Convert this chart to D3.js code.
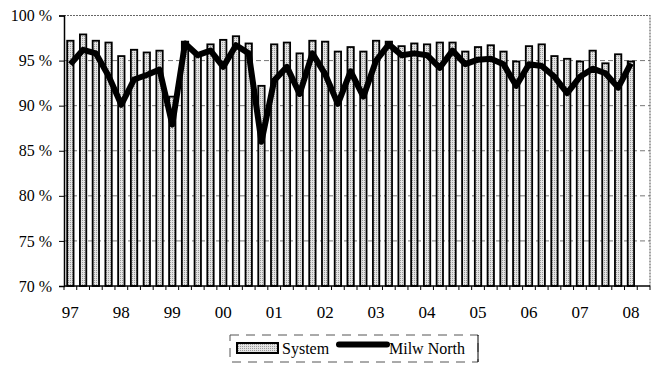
<!DOCTYPE html>
<html>
<head>
<meta charset="UTF-8">
<script src="https://cdn.jsdelivr.net/npm/d3@7"></script>
</head>
<body style="margin:0">
<script>
let width = 659;
let height = 367;
let margin = {top: 15.5, right: 9, bottom: 81, left: 64};
let serifFont = "'Liberation Serif'";

// year labels on the category axis, one per first quarter
let years = ['97', '98', '99', '00', '01', '02', '03', '04', '05', '06', '07', '08'];
let quarters = years.flatMap(y => ['Q1', 'Q2', 'Q3', 'Q4'].map(q => y + q)).slice(0, 46);

let systemValues = [
  97.2, 97.9, 97.2, 97.0, 95.5, 96.2, 95.9, 96.1, 91.0, 97.1, 95.8, 96.8,
  97.3, 97.7, 96.9, 92.2, 96.8, 97.0, 95.8, 97.2, 97.1, 96.0, 96.5, 96.0,
  97.2, 97.1, 96.6, 96.9, 96.8, 97.0, 97.0, 96.0, 96.5, 96.7, 96.0, 94.9,
  96.6, 96.8, 95.5, 95.2, 94.9, 96.1, 94.7, 95.7, 94.9
];
let milwNorthValues = [
  94.6, 96.2, 95.8, 93.3, 90.1, 92.9, 93.4, 94.0, 87.9, 96.9, 95.6, 96.1,
  94.3, 96.7, 95.8, 86.0, 92.8, 94.3, 91.3, 95.8, 93.5, 90.2, 93.8, 91.0,
  95.0, 96.8, 95.6, 95.8, 95.6, 94.2, 96.1, 94.6, 95.1, 95.2, 94.6, 92.2,
  94.6, 94.4, 93.2, 91.4, 93.2, 94.1, 93.6, 92.0, 94.7
];
let yTicks = [70, 75, 80, 85, 90, 95, 100];

let svg = d3.select('body')
  .append('svg')
  .attr('width', width)
  .attr('height', height);

svg.append('rect')
  .attr('width', width)
  .attr('height', height)
  .attr('fill', '#fff');

let x = d3.scaleBand()
  .domain(quarters)
  .range([margin.left, width - margin.right])
  .paddingInner(0.5)
  .paddingOuter(0.25);

let y = d3.scaleLinear()
  .domain([70, 100])
  .range([height - margin.bottom, margin.top]);

let x0 = margin.left;
let x1 = width - margin.right;
let yBottom = y(70);

// dotted fill for the bars
let defs = svg.append('defs');
let pat = defs.append('pattern')
  .attr('id', 'dots')
  .attr('width', 2)
  .attr('height', 2)
  .attr('patternUnits', 'userSpaceOnUse');
pat.append('rect').attr('width', 2).attr('height', 2).attr('fill', '#e4e4e4');
pat.append('rect').attr('width', 1).attr('height', 1).attr('fill', '#9a9a9a');

// gridlines
svg.append('g')
  .selectAll('line')
  .data(yTicks.filter(d => d > 70 && d < 100))
  .join('line')
  .attr('x1', x0)
  .attr('x2', x1)
  .attr('y1', d => y(d))
  .attr('y2', d => y(d))
  .attr('stroke', '#777')
  .attr('stroke-width', 1)
  .attr('stroke-dasharray', '5,3');

// plot frame, top and right
svg.append('path')
  .attr('d', 'M' + x0 + ',' + y(100) + 'H' + x1 + 'V' + yBottom)
  .attr('fill', 'none')
  .attr('stroke', '#666')
  .attr('stroke-width', 1.2)
  .attr('stroke-dasharray', '2,1');

// bars
svg.append('g')
  .selectAll('rect')
  .data(systemValues)
  .join('rect')
  .attr('x', (d, i) => x(quarters[i]))
  .attr('y', d => y(d))
  .attr('width', x.bandwidth())
  .attr('height', d => yBottom - y(d))
  .attr('fill', 'url(#dots)')
  .attr('stroke', '#000')
  .attr('stroke-width', 1.8);

// line
let line = d3.line()
  .x((d, i) => x(quarters[i]) + x.bandwidth() / 2)
  .y(d => y(d));

svg.append('path')
  .datum(milwNorthValues)
  .attr('d', line)
  .attr('fill', 'none')
  .attr('stroke', '#000')
  .attr('stroke-width', 6)
  .attr('stroke-linejoin', 'round');

// y axis
let yAxis = d3.axisLeft(y)
  .tickValues(yTicks)
  .tickFormat(d => d + ' %')
  .tickSize(5)
  .tickPadding(7);

let gy = svg.append('g')
  .attr('transform', 'translate(' + x0 + ',0)')
  .call(yAxis);
gy.select('.domain').attr('stroke-width', 1.5);
gy.selectAll('text')
  .attr('fill', '#000')
  .style('font-family', serifFont)
  .style('font-size', '16px');

// x axis: ticks between categories, labels on first quarter
let step = x.step();
let edges = quarters.map(q => x(q) - (step - x.bandwidth()) / 2).concat([x1]);

let gx = svg.append('g');
gx.append('line')
  .attr('x1', x0)
  .attr('x2', x1)
  .attr('y1', yBottom)
  .attr('y2', yBottom)
  .attr('stroke', '#000')
  .attr('stroke-width', 1.5);
gx.selectAll('line.tick')
  .data(edges)
  .join('line')
  .attr('class', 'tick')
  .attr('x1', d => d)
  .attr('x2', d => d)
  .attr('y1', yBottom)
  .attr('y2', yBottom + 4)
  .attr('stroke', '#000');
gx.selectAll('text')
  .data(years)
  .join('text')
  .attr('x', d => x(d + 'Q1') + x.bandwidth() / 2)
  .attr('y', yBottom + 32)
  .attr('text-anchor', 'middle')
  .style('font-family', serifFont)
  .style('font-size', '17px')
  .text(d => d);

// legend
let lg = svg.append('g');
lg.append('rect')
  .attr('x', 230)
  .attr('y', 335)
  .attr('width', 248)
  .attr('height', 27)
  .attr('fill', 'none')
  .attr('stroke', '#555')
  .attr('stroke-dasharray', '9,7');
lg.append('line')
  .attr('x1', 478).attr('x2', 478)
  .attr('y1', 335).attr('y2', 362)
  .attr('stroke', '#000');
lg.append('rect')
  .attr('x', 237)
  .attr('y', 343)
  .attr('width', 41)
  .attr('height', 10)
  .attr('fill', 'url(#dots)')
  .attr('stroke', '#000')
  .attr('stroke-width', 2);
lg.append('text')
  .attr('x', 282)
  .attr('y', 354)
  .style('font-family', serifFont)
  .style('font-size', '16px')
  .text('System');
lg.append('line')
  .attr('x1', 339).attr('x2', 387)
  .attr('y1', 344.5).attr('y2', 344.5)
  .attr('stroke', '#000')
  .attr('stroke-width', 6)
  .attr('stroke-linecap', 'round');
lg.append('text')
  .attr('x', 389)
  .attr('y', 354)
  .style('font-family', serifFont)
  .style('font-size', '16px')
  .text('Milw North');
</script>
</body>
</html>
